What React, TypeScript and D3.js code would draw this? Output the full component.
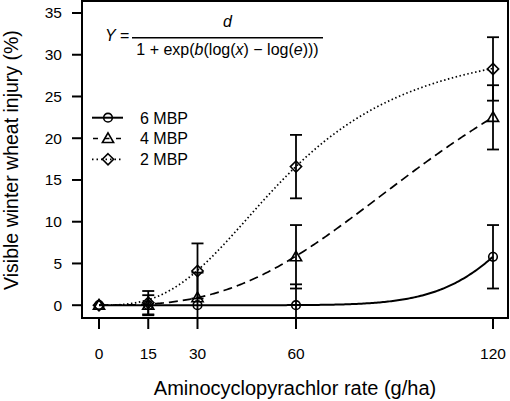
import React from "react";
import * as d3 from "d3";

// ---- data ----
const rates = [0, 15, 30, 60, 120];
const xTicks = [0, 15, 30, 60, 120];
const yTicks = [0, 5, 10, 15, 20, 25, 30, 35];

const series = ["6 MBP", "4 MBP", "2 MBP"];
const mbp6Mean = [0, 0, 0, 0, 5.8];
const mbp6Err = [0, 0, 0, 2.5, 3.8];
const mbp4Mean = [0, 0, 0.9, 5.8, 22.5];
const mbp4Err = [0, 1.2, 3.0, 3.8, 3.85];
const mbp2Mean = [0, 0.3, 4.1, 16.6, 28.3];
const mbp2Err = [0, 1.4, 3.3, 3.8, 3.8];

// log-logistic fit parameters: d, b, e
const paramD = [30, 40, 32];
const paramB = [-9, -2.9, -2.85];
const paramE = [140.6, 110, 58.4];

const W = 510;
const H = 401;
const FONT = "'Liberation Sans', Arial, Helvetica, sans-serif";

const box = { left: 82, right: 508, top: 1, bottom: 318 };
const x = d3.scaleLinear().domain([0, 120]).range([99, 493]);
const y = d3.scaleLinear().domain([0, 35]).range([305.2, 13]);

const dashes = [null, "9,5", "1.5,2.5"];

function model(i: number, v: number) {
  if (v <= 0) return 0;
  return paramD[i] / (1 + Math.exp(paramB[i] * (Math.log(v) - Math.log(paramE[i]))));
}

function Marker({ kind, cx, cy }: { kind: number; cx: number; cy: number }) {
  const common = { fill: "none", stroke: "#000", strokeWidth: 1.6 };
  if (kind === 0) return <circle cx={cx} cy={cy} r={4.3} {...common} />;
  if (kind === 1) {
    const s = 5.6;
    return (
      <path
        d={`M${cx},${cy - s} L${cx + s},${cy + s * 0.72} L${cx - s},${cy + s * 0.72} Z`}
        {...common}
      />
    );
  }
  const s = 5.6;
  return (
    <path d={`M${cx},${cy - s} L${cx + s},${cy} L${cx},${cy + s} L${cx - s},${cy} Z`} {...common} />
  );
}

export default function App() {
  const means = [mbp6Mean, mbp4Mean, mbp2Mean];
  const errs = [mbp6Err, mbp4Err, mbp2Err];
  const grid = d3.range(0, 120.01, 0.5);

  return (
    <svg width={W} height={H} style={{ position: "absolute", left: 0, top: 0 }} fontFamily={FONT}>
      <defs>
        <clipPath id="plotclip">
          <rect x={box.left} y={box.top} width={box.right - box.left} height={box.bottom - box.top} />
        </clipPath>
      </defs>
      <rect width={W} height={H} fill="#fff" />

      {/* curves */}
      <g clipPath="url(#plotclip)">
        {series.map((s, i) => {
          const gen = d3
            .line<number>()
            .x((v) => x(v))
            .y((v) => y(model(i, v)));
          return (
            <path
              key={s}
              d={gen(grid) || ""}
              fill="none"
              stroke="#000"
              strokeWidth={i === 0 ? 2 : 1.7}
              strokeDasharray={dashes[i] || undefined}
            />
          );
        })}
        {/* error bars */}
        {series.map((s, i) =>
          rates.map((r, j) => {
            const e = errs[i][j];
            if (!e) return null;
            const cx = x(r);
            const y1 = y(means[i][j] + e);
            const y2 = y(means[i][j] - e);
            return (
              <g key={s + r} stroke="#000" strokeWidth={1.8}>
                <line x1={cx} x2={cx} y1={y1} y2={y2} />
                <line x1={cx - 6} x2={cx + 6} y1={y1} y2={y1} />
                <line x1={cx - 6} x2={cx + 6} y1={y2} y2={y2} />
              </g>
            );
          })
        )}
        {/* markers */}
        {series.map((s, i) =>
          rates.map((r, j) => <Marker key={s + "m" + r} kind={i} cx={x(r)} cy={y(means[i][j])} />)
        )}
      </g>

      {/* box */}
      <rect
        x={box.left}
        y={box.top}
        width={box.right - box.left}
        height={box.bottom - box.top}
        fill="none"
        stroke="#000"
        strokeWidth={2}
      />

      {/* y axis */}
      {yTicks.map((t) => (
        <g key={"y" + t}>
          <line x1={72} x2={box.left} y1={y(t)} y2={y(t)} stroke="#000" strokeWidth={2} />
          <text x={62} y={y(t) + 5.3} textAnchor="end" fontSize={15.5}>
            {t}
          </text>
        </g>
      ))}
      {/* x axis */}
      {xTicks.map((t) => (
        <g key={"x" + t}>
          <line x1={x(t)} x2={x(t)} y1={box.bottom} y2={329} stroke="#000" strokeWidth={2} />
          <text x={x(t)} y={358.5} textAnchor="middle" fontSize={15.5}>
            {t}
          </text>
        </g>
      ))}

      <text x={295} y={394.5} textAnchor="middle" fontSize={20}>
        Aminocyclopyrachlor rate (g/ha)
      </text>
      <text transform="translate(17.5,160) rotate(-90)" textAnchor="middle" fontSize={19.5}>
        Visible winter wheat injury (%)
      </text>

      {/* legend */}
      {series.map((s, i) => {
        const ly = 117.7 + i * 20.8;
        return (
          <g key={"leg" + s}>
            <line
              x1={92}
              x2={123}
              y1={ly}
              y2={ly}
              stroke="#000"
              strokeWidth={i === 0 ? 2 : 1.7}
              strokeDasharray={i === 1 ? "5,6.5" : i === 2 ? "1.5,3" : undefined}
              strokeDashoffset={i === 1 ? -1 : 0}
            />
            <Marker kind={i} cx={108} cy={ly} />
            <text x={140} y={ly + 5.8} fontSize={16}>
              {s}
            </text>
          </g>
        );
      })}

      {/* formula */}
      <g fontSize={16}>
        <text x={105} y={41}>
          <tspan fontStyle="italic">Y</tspan>
          <tspan> =</tspan>
        </text>
        <line x1={132} x2={323} y1={37.7} y2={37.7} stroke="#000" strokeWidth={1.5} />
        <text x={227.5} y={27} textAnchor="middle" fontStyle="italic">
          d
        </text>
        <text x={227.5} y={55} textAnchor="middle">
          <tspan>1 + exp(</tspan>
          <tspan fontStyle="italic">b</tspan>
          <tspan>(log(</tspan>
          <tspan fontStyle="italic">x</tspan>
          <tspan>) − log(</tspan>
          <tspan fontStyle="italic">e</tspan>
          <tspan>)))</tspan>
        </text>
      </g>
    </svg>
  );
}
